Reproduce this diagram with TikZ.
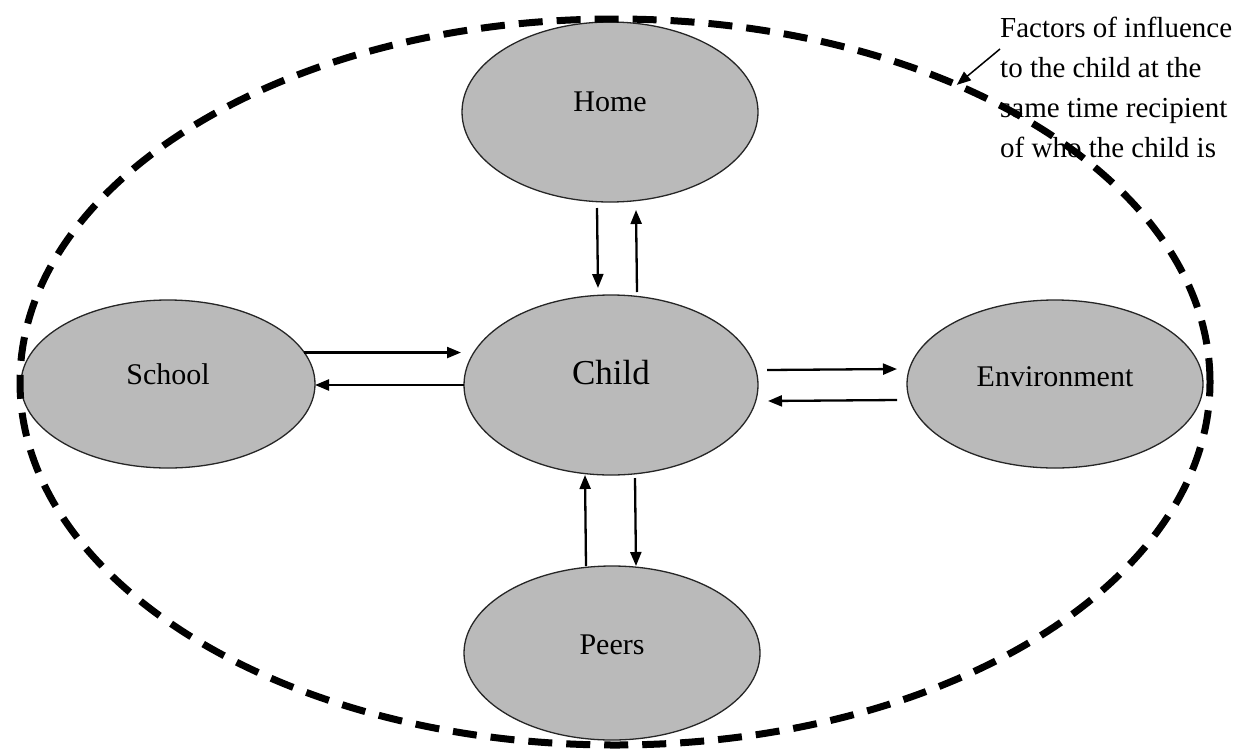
\documentclass[tikz,border=0pt]{standalone}
\usepackage{fontspec}
\setmainfont{Liberation Serif}
\usetikzlibrary{shapes.geometric,arrows.meta}
\begin{document}
\begin{tikzpicture}[x=1pt,y=-1pt,
  bubble/.style={ellipse, draw=black!85, line width=1.3pt, fill=black!27, inner sep=0pt, outer sep=0pt},
  lbl/.style={font=\fontsize{30}{32}\selectfont, inner sep=0pt},
  arr/.style={line width=2.3pt, -{Triangle[length=14pt,width=11pt]}},
  outerdash/.style={ellipse, draw, line width=7pt, dash pattern=on 24pt off 14pt, inner sep=0pt, outer sep=0pt, minimum width=1190pt, minimum height=726pt},
  note/.style={anchor=north west, inner sep=0pt, align=left, font=\fontsize{29}{40}\selectfont}
]
\useasboundingbox (0,0) rectangle (1241,755);
\node[bubble, minimum width=296pt, minimum height=180pt, label={[lbl,yshift=10pt]center:Home}] (home) at (610,112) {};
\node[bubble, minimum width=294pt, minimum height=180pt, label={[lbl,font=\fontsize{35}{36}\selectfont,yshift=12pt]center:Child}] (child) at (611,385) {};
\node[bubble, minimum width=294pt, minimum height=168pt, label={[lbl,yshift=10pt]center:School}] (school) at (168,384) {};
\node[bubble, minimum width=296pt, minimum height=168pt, label={[lbl,yshift=7pt]center:Environment}] (env) at (1055,384) {};
\node[bubble, minimum width=296pt, minimum height=174pt, label={[lbl,yshift=8pt]center:Peers}] (peers) at (612,653) {};
\node[note] (txt) at (1000,17) {Factors of influence\\to the child at the\\same time recipient\\of who the child is};
\node[outerdash] (outer) at (615,382) {};
% arrows
\draw[arr] ([xshift=-13pt,yshift=-6pt]home.south) -- ([xshift=-13pt,yshift=7pt]child.north);
\draw[arr] ([xshift=26pt,yshift=3pt]child.north) -- ([xshift=26pt,yshift=-8pt]home.south);
\draw[arr] (school.13) -- ([xshift=-3pt]school.13 -| child.west);
\draw[arr] (child.west) -- (child.west -| school.east);
\draw[arr] ([xshift=9pt,yshift=15pt]child.east) -- ([xshift=-10pt,yshift=15pt]env.west);
\draw[arr] ([xshift=-10pt,yshift=-16pt]env.west) -- ([xshift=10pt,yshift=-16pt]child.east);
\draw[arr] ([xshift=-26pt]peers.north) -- ([xshift=-26pt]child.south);
\draw[arr] ([xshift=24pt,yshift=-3pt]child.south) -- ([xshift=24pt]peers.north);
\draw[arr, line width=1.5pt] ([yshift=-32pt]txt.north west) -- (outer.41.8);
\end{tikzpicture}
\end{document}
